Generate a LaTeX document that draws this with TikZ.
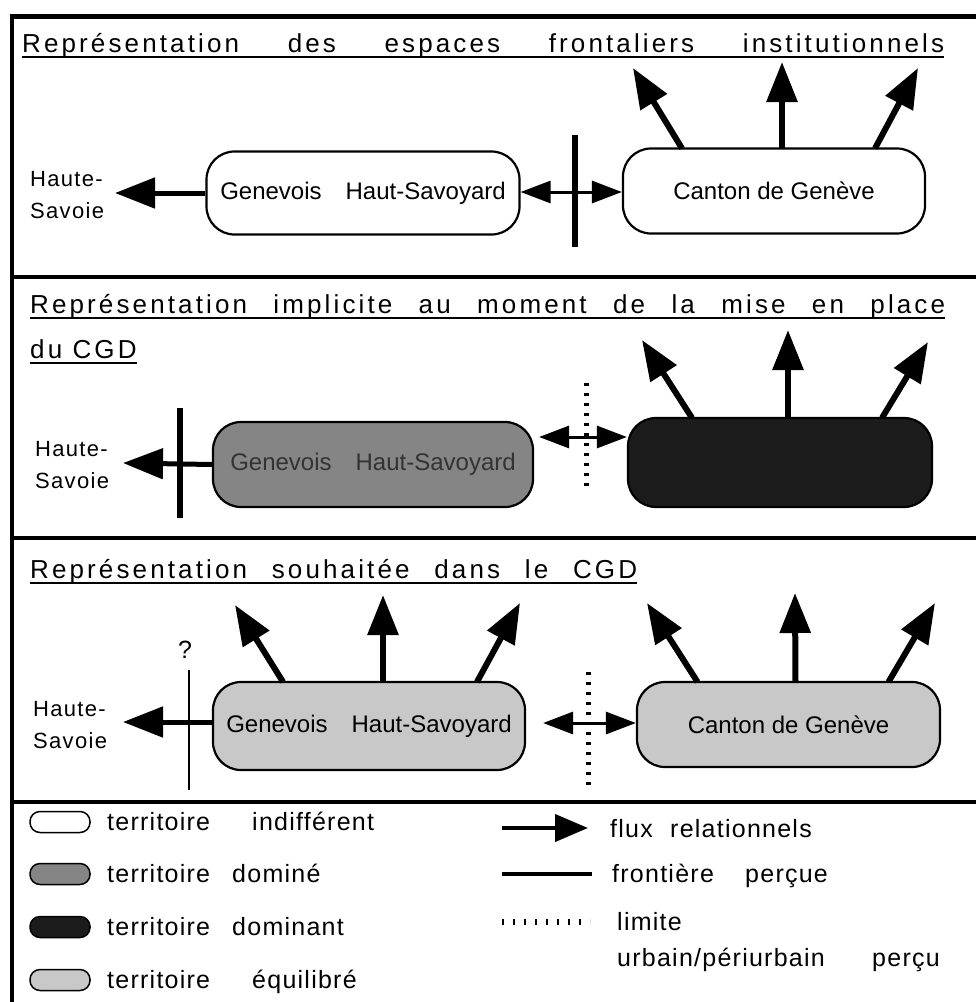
\documentclass[tikz,border=0pt]{standalone}
\usepackage{fontspec}
\setmainfont{Liberation Sans}
\usetikzlibrary{arrows.meta,calc}
\definecolor{domine}{HTML}{858585}
\definecolor{dominant}{HTML}{1C1C1C}
\definecolor{equil}{HTML}{C8C8C8}
\definecolor{dimtext}{HTML}{333333}
\newcommand\titlefont{\fontsize{26}{30}\selectfont\addfontfeatures{LetterSpace=12}}
\newcommand\boxfont{\fontsize{24}{28}\selectfont}
\newcommand\hsfont{\fontsize{22}{26}\selectfont\addfontfeatures{LetterSpace=6}}
\newcommand\legfont{\fontsize{25}{30}\selectfont\addfontfeatures{LetterSpace=5}}
\begin{document}
\begin{tikzpicture}[x=1pt,y=-1pt,
  frame/.style={line width=4pt},
  terr/.style={draw, line width=2.2pt, rounded corners=28pt, inner sep=0pt},
  flux/.style={line width=6pt, -{Triangle[length=40pt,width=30pt]}},
  link/.style={line width=3pt, {Triangle[length=30pt,width=22pt]}-{Triangle[length=30pt,width=22pt]}},
  bordr/.style={line width=6pt},
  limit/.style={line width=5pt, dash pattern=on 3pt off 7pt},
  ttl/.style={anchor=base west, inner sep=0pt, font=\titlefont},
  uline/.style={line width=1.6pt},
  hs/.style={anchor=base west, inner sep=0pt, font=\hsfont},
  leg/.style={anchor=base west, inner sep=0pt, font=\legfont},
  pill/.style={draw, line width=1.5pt, rounded corners=10pt, minimum width=60pt, minimum height=21pt, inner sep=0pt}
]
\useasboundingbox (0,0) rectangle (976,1002);
% frame
\draw[frame, line width=5pt] (12,16) -- (976,16);
\draw[frame] (12,277) -- (976,277);
\draw[frame] (12,538) -- (976,538);
\draw[frame] (12,802) -- (976,802);
\draw[frame] (12,14) -- (12,1002);

% ---------------- panel 1
\node[ttl] (t1) at (22,52) {\makebox[922pt][s]{Représentation des espaces frontaliers institutionnels}};
\draw[uline] ($(t1.base west)+(0,5)$) -- ($(t1.base east)+(0,5)$);
\node[terr, fill=white, minimum width=313pt, minimum height=83pt] (gh1) at (363,193)
  {\boxfont Genevois\hspace{24pt}Haut-Savoyard};
\node[terr, fill=white, minimum width=302pt, minimum height=85pt] (cg1) at (774,191)
  {\boxfont Canton de Genève};
\node[hs] (hs1a) at (30,186) {Haute-};
\node[hs] (hs1b) at (30,218) {Savoie};
\coordinate (a1) at (115,193);
\draw[flux, line width=5pt] (gh1.west) -- (a1);
\coordinate (b1t) at (575,135); \coordinate (b1b) at (575,247);
\draw[bordr] (b1t) -- (b1b);
\draw[link] (gh1.east |- 0,192) -- (cg1.west |- 0,192);
\coordinate (u1a) at (633,68); \coordinate (u1b) at (782,62); \coordinate (u1c) at (918,68);
\draw[flux] ($(cg1.north)+(-92,1)$) -- (u1a);
\draw[flux] ($(cg1.north)+(8,1)$) -- (u1b);
\draw[flux] ($(cg1.north)+(101,1)$) -- (u1c);

% ---------------- panel 2
\node[ttl] (t2) at (30,313) {\makebox[915pt][s]{Représentation implicite au moment de la mise en place}};
\draw[uline] ($(t2.base west)+(0,5)$) -- ($(t2.base east)+(0,5)$);
\node[ttl] (t2b) at (30,358) {du CGD};
\draw[uline] ($(t2b.base west)+(0,5)$) -- ($(t2b.base east)+(0,5)$);
\node[terr, fill=domine, minimum width=320pt, minimum height=85pt] (gh2) at (373,464.5)
  {\boxfont\color{dimtext}Genevois\hspace{24pt}Haut-Savoyard};
\node[terr, fill=dominant, minimum width=304pt, minimum height=89pt] (cg2) at (780,462.5) {};
\node[hs] (hs2a) at (35,456) {Haute-};
\node[hs] (hs2b) at (35,488) {Savoie};
\coordinate (a2) at (123,463);
\draw[flux, line width=5pt] (gh2.west) -- (a2);
\coordinate (b2t) at (180,408); \coordinate (b2b) at (180,518);
\draw[bordr] (b2t) -- (b2b);
\coordinate (l2t) at (586,383); \coordinate (l2b) at (586,490);
\draw[limit] (l2t) -- (l2b);
\draw[link] ($(gh2.east |- 0,437)+(5,0)$) -- (cg2.west |- 0,437);
\coordinate (u2a) at (642,340); \coordinate (u2b) at (788,330); \coordinate (u2c) at (928,342);
\draw[flux] ($(cg2.north)+(-88,1)$) -- (u2a);
\draw[flux] ($(cg2.north)+(8,1)$) -- (u2b);
\draw[flux] ($(cg2.north)+(102,1)$) -- (u2c);

% ---------------- panel 3
\node[ttl] (t3) at (30,578) {\makebox[607pt][s]{Représentation souhaitée dans le CGD}};
\draw[uline] ($(t3.base west)+(0,5)$) -- ($(t3.base east)+(0,5)$);
\node[terr, fill=equil, minimum width=312pt, minimum height=88pt] (gh3) at (369,726)
  {\boxfont Genevois\hspace{24pt}Haut-Savoyard};
\node[terr, fill=equil, minimum width=303pt, minimum height=85pt] (cg3) at (788.5,724.5)
  {\boxfont Canton de Genève};
\node[hs] (hs3a) at (33,716) {Haute-};
\node[hs] (hs3b) at (33,748) {Savoie};
\coordinate (a3) at (123,722);
\draw[flux, line width=5pt] (gh3.west |- 0,722) -- (a3);
\node[font=\fontsize{25}{30}\selectfont, inner sep=0pt] (q3) at (185,650) {?};
\coordinate (b3t) at (189,670); \coordinate (b3b) at (189,790);
\draw[line width=2.5pt] (b3t) -- (b3b);
\coordinate (l3t) at (588,672); \coordinate (l3b) at (588,788);
\draw[limit] (l3t) -- (l3b);
\draw[link] ($(gh3.east |- 0,723)+(17,0)$) -- (cg3.west |- 0,723);
\coordinate (u3a) at (235,605); \coordinate (u3b) at (383,595); \coordinate (u3c) at (520,603);
\draw[flux] ($(gh3.north)+(-86,1)$) -- (u3a);
\draw[flux] ($(gh3.north)+(14,1)$) -- (u3b);
\draw[flux] ($(gh3.north)+(108,1)$) -- (u3c);
\coordinate (u3d) at (647,603); \coordinate (u3e) at (795,593); \coordinate (u3f) at (935,603);
\draw[flux] ($(cg3.north)+(-91,1)$) -- (u3d);
\draw[flux] ($(cg3.north)+(7,1)$) -- (u3e);
\draw[flux] ($(cg3.north)+(100,1)$) -- (u3f);

% ---------------- legend
\node[pill, fill=white] (p1) at (60,822) {};
\node[pill, fill=domine] (p2) at (60,874) {};
\node[pill, fill=dominant] (p3) at (60,927) {};
\node[pill, fill=equil] (p4) at (60,980) {};
\node[leg] (l1a) at (107,830) {territoire};
\node[leg] (l1b) at (252,830) {indifférent};
\node[leg] (l2a) at (107,882) {territoire};
\node[leg] (l2b) at (232,882) {dominé};
\node[leg] (l3a) at (107,935) {territoire};
\node[leg] (l3b) at (232,935) {dominant};
\node[leg] (l4a) at (107,988) {territoire};
\node[leg] (l4b) at (252,988) {équilibré};

\coordinate (f0) at (502,828); \coordinate (f1) at (588,828);
\draw[line width=4pt, -{Triangle[length=33pt,width=27pt]}] (f0) -- (f1);
\node[leg] (r1a) at (610,837) {flux};
\node[leg] (r1b) at (670,837) {relationnels};
\coordinate (g0) at (502,874); \coordinate (g1) at (592,874);
\draw[line width=4.5pt] (g0) -- (g1);
\node[leg] (r2a) at (612,882) {frontière};
\node[leg] (r2b) at (745,882) {perçue};
\coordinate (h0) at (502,922); \coordinate (h1) at (590,922);
\draw[line width=6pt, dash pattern=on 2pt off 9pt] (h0) -- (h1);
\node[leg] (r3a) at (617,930) {limite};
\node[leg] (r3b) at (617,966) {urbain/périurbain};
\node[leg] (r3c) at (872,966) {perçu};
\end{tikzpicture}
\end{document}
